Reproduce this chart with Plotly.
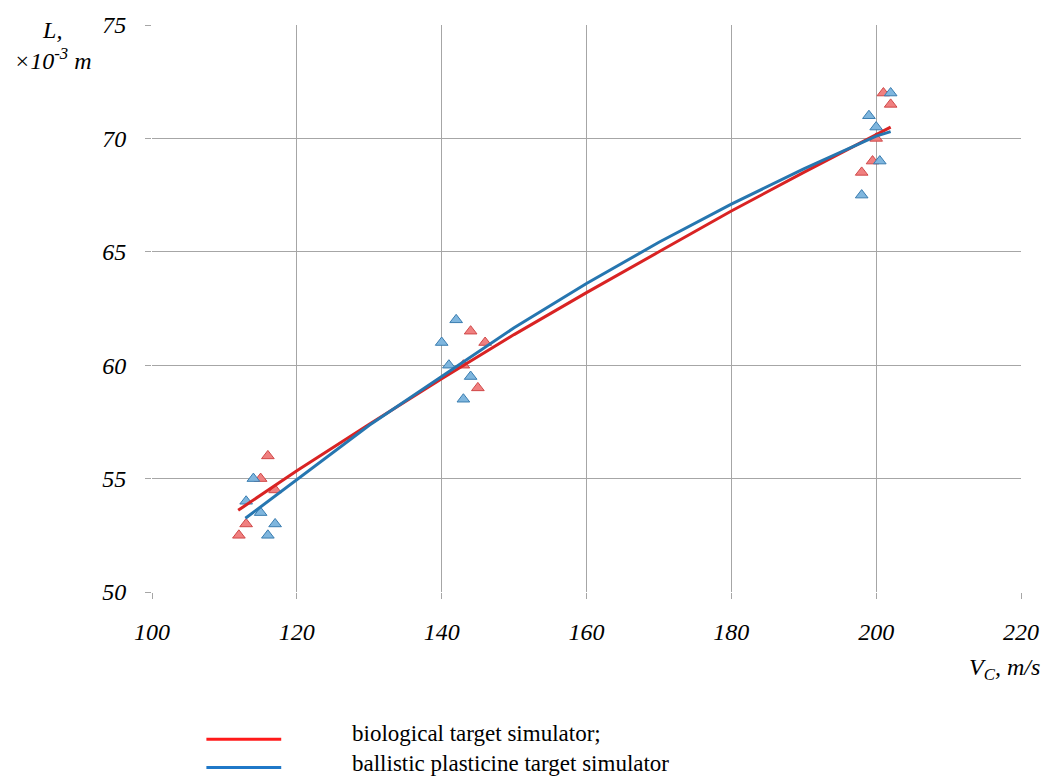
import plotly.graph_objects as go

# Experimental points: biological target simulator (red)
bio_v = [112.0, 113.0, 115.0, 116.0, 117.0, 143.0, 144.0, 145.0, 146.0, 198.0, 199.5, 200.0, 201.0, 202.0]
bio_l = [52.5, 53.0, 55.0, 56.0, 54.5, 60.0, 61.5, 59.0, 61.0, 68.5, 69.0, 70.0, 72.0, 71.5]

# Experimental points: ballistic plasticine target simulator (blue)
bal_v = [113.0, 114.0, 115.0, 116.0, 117.0, 140.0, 141.0, 142.0, 143.0, 144.0, 198.0, 199.0, 200.0, 200.5, 202.0]
bal_l = [54.0, 55.0, 53.5, 52.5, 53.0, 61.0, 60.0, 62.0, 58.5, 59.5, 67.5, 71.0, 70.5, 69.0, 72.0]

# Trend curves
bio_fit_v = [111.9, 120.0, 130.0, 140.0, 150.0, 160.0, 170.0, 180.0, 190.0, 200.0, 202.0]
bio_fit_l = [53.6, 55.35, 57.4, 59.4, 61.35, 63.2, 65.0, 66.8, 68.5, 70.15, 70.5]
bal_fit_v = [112.9, 120.0, 130.0, 140.0, 150.0, 160.0, 170.0, 180.0, 190.0, 200.0, 202.0]
bal_fit_l = [53.25, 54.95, 57.35, 59.5, 61.65, 63.6, 65.42, 67.1, 68.66, 70.1, 70.3]

x_ticks = [100, 120, 140, 160, 180, 200, 220]
y_ticks = [50, 55, 60, 65, 70, 75]

legend_names = ["biological target simulator;", "ballistic plasticine target simulator"]

RED_LINE = "#d92323"
BLUE_LINE = "#2676b0"

fig = go.Figure()

fig.add_trace(go.Scatter(
    x=bio_v, y=bio_l, mode="markers",
    marker=dict(symbol="triangle-up", size=11, color="#f08080",
                line=dict(color="#d04848", width=1)),
    showlegend=False))
fig.add_trace(go.Scatter(
    x=bal_v, y=bal_l, mode="markers",
    marker=dict(symbol="triangle-up", size=11, color="#7fb6de",
                line=dict(color="#3a7db0", width=1)),
    showlegend=False))
fig.add_trace(go.Scatter(
    x=bio_fit_v, y=bio_fit_l, mode="lines", line=dict(color=RED_LINE, width=3),
    showlegend=False))
fig.add_trace(go.Scatter(
    x=bal_fit_v, y=bal_fit_l, mode="lines", line=dict(color=BLUE_LINE, width=3),
    showlegend=False))

SERIF = "Liberation Serif, Times New Roman, serif"
tickfont = dict(family=SERIF, size=24, color="black", style="italic")

fig.update_layout(
    width=1051, height=778,
    margin=dict(l=152, r=25, t=19, b=186),
    paper_bgcolor="white", plot_bgcolor="white",
    xaxis=dict(range=[100, 220], tickvals=x_ticks, ticktext=[str(v) for v in x_ticks],
               showgrid=True, gridcolor="#a6a6a6", gridwidth=1,
               ticks="outside", ticklen=6, tickcolor="#a6a6a6",
               tickfont=tickfont, zeroline=False, showline=False,
               ticklabelstandoff=12),
    yaxis=dict(range=[50, 75], tickvals=y_ticks, ticktext=[str(v) for v in y_ticks],
               showgrid=True, gridcolor="#a6a6a6", gridwidth=1,
               ticks="outside", ticklen=6, tickcolor="#a6a6a6",
               tickfont=tickfont, zeroline=False, showline=False,
               ticklabelstandoff=14),
    font=dict(family=SERIF, color="black"),
)

# hide the gridline at the right end (x=220), as in the reference
fig.add_shape(type="line", xref="x", yref="paper", x0=220, x1=220, y0=0, y1=1,
              line=dict(color="white", width=3), layer="between")

# axis titles
fig.add_annotation(xref="paper", yref="paper", x=-0.1144, y=1.0175, xanchor="center", yanchor="top",
                   text="<i>L,</i><br><i>×10<sup>-3</sup> m</i>", showarrow=False,
                   font=dict(family=SERIF, size=24, color="black"), align="center")
fig.add_annotation(xref="paper", yref="paper", x=1.024, y=-0.136, xanchor="right", yanchor="middle",
                   text="<i>V<sub>C</sub>, m/s</i>", showarrow=False, align="right",
                   font=dict(family=SERIF, size=24, color="black"))

# custom legend
leg_line_y = [-0.2595, -0.3094]
leg_text_y = [-0.2496, -0.3019]
leg_colors = ["#ff1a1a", "#1f78c8"]
for name, ly, ty, col in zip(legend_names, leg_line_y, leg_text_y, leg_colors):
    fig.add_shape(type="line", xref="paper", yref="paper", x0=0.0626, x1=0.1487, y0=ly, y1=ly,
                  line=dict(color=col, width=3))
    fig.add_annotation(xref="paper", yref="paper", x=0.2277, y=ty, xanchor="left",
                       yanchor="middle", align="left", text=name, showarrow=False,
                       font=dict(family=SERIF, size=23, color="black"))

fig.write_html("out.html")
